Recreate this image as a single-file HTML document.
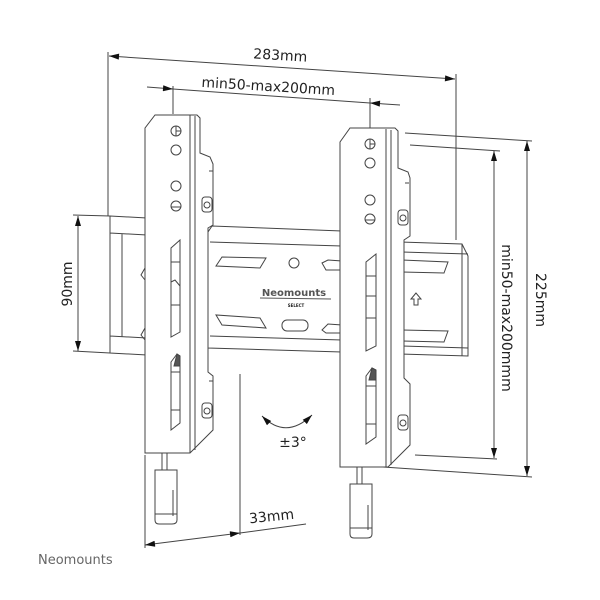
<!DOCTYPE html>
<html><head><meta charset="utf-8"><style>
html,body{margin:0;padding:0;background:#fff;width:600px;height:600px;overflow:hidden}
svg text{font-family:"DejaVu Sans","Liberation Sans",sans-serif;fill:#222}
</style></head><body>
<svg width="600" height="600" viewBox="0 0 600 600" xmlns="http://www.w3.org/2000/svg">
<defs>
<marker id="a" viewBox="0 0 10 6" refX="10" refY="3" markerWidth="12" markerHeight="6" markerUnits="userSpaceOnUse" orient="auto-start-reverse"><path d="M0,0 L10,3 L0,6 Z" fill="#111"/></marker>
</defs>
<g stroke="#444" stroke-width="1" fill="none">
<line x1="108" y1="52" x2="108" y2="216"/>
<line x1="456" y1="74" x2="456" y2="240"/>
<line x1="109" y1="56" x2="455" y2="79" marker-start="url(#a)" marker-end="url(#a)"/>
<line x1="173" y1="86" x2="173" y2="114"/>
<line x1="370" y1="98" x2="370" y2="128"/>
<line x1="147" y1="87" x2="173" y2="89" marker-end="url(#a)"/>
<line x1="173" y1="89" x2="370" y2="103"/>
<line x1="400" y1="105" x2="370" y2="103" marker-end="url(#a)"/>
<line x1="73" y1="215" x2="110" y2="216"/>
<line x1="73" y1="351" x2="110" y2="353"/>
<line x1="78" y1="216" x2="78" y2="351" marker-start="url(#a)" marker-end="url(#a)"/>
<line x1="405" y1="133" x2="532" y2="141"/>
<line x1="383" y1="467" x2="532" y2="477"/>
<line x1="527" y1="141" x2="527" y2="476" marker-start="url(#a)" marker-end="url(#a)"/>
<line x1="410" y1="145" x2="500" y2="151"/>
<line x1="415" y1="455" x2="497" y2="459"/>
<line x1="494" y1="151" x2="494" y2="458" marker-start="url(#a)" marker-end="url(#a)"/>
<line x1="145" y1="455" x2="145" y2="548"/>
<line x1="240" y1="374" x2="240" y2="535"/>
<line x1="145" y1="545" x2="240" y2="533" marker-start="url(#a)" marker-end="url(#a)"/>
<line x1="240" y1="533" x2="306" y2="524"/>
<path d="M262,416 Q286,440 312,415" marker-start="url(#a)" marker-end="url(#a)"/>

<path d="M110,216 L147,218 M110,216 L110,353 L147,355 M110,233 L147,235 M110,336 L147,338 M122,234 L122,337"/>
<path d="M145,268 L141,275 L145,280 M145,328 L141,335 L145,340"/>
<path d="M208,232 L212,226 L342,231 M208,232 L208,348 L342,352 M210,242 L342,246 M210,336 L342,340"/>
<path d="M216,266 L222,257 L266,258 L260,268 Z M322,263 L328,260 L342,261 L342,270 L326,270 Z"/>
<path d="M216,315 L222,325 L266,328 L260,318 Z M322,330 L328,324 L342,325 L342,333 L326,333 Z"/>
<circle cx="294" cy="263" r="5"/>
<rect x="282" y="320" width="26" height="11" rx="5"/>
<line x1="260" y1="298" x2="331" y2="299" stroke="#555"/>
<path d="M400,242 L462,244 L468,256 L468,356 L400,354 Z M462,244 L462,356 M402,252 L468,254 M402,346 L468,348"/>
<path d="M402,260 L448,262 L444,273 L402,272 M402,330 L448,331 L444,342 L402,341"/>
<path d="M416,293 L411,299 L414,299 L414,305 L418,305 L418,299 L421,299 Z"/>

<path d="M145,128 L155,115 L197,115 L200,118 L200,153 L210,157 L213,164 L213,225 L208,228 L208,372 L213,376 L213,430 L190,453 L145,453 Z" fill="#fff"/>
<path d="M190,115 L190,453 M195,116 L195,450"/>
<circle cx="176" cy="131" r="5"/><path d="M176,126 L176,136 M176,131 L181,131" />
<circle cx="176" cy="150" r="5"/><circle cx="176" cy="186" r="5"/><circle cx="176" cy="206" r="5"/><path d="M171,207 L181,207"/>
<path d="M171,248 L180,240 L180,332 L171,337 Z M171,262 L180,262 M171,282 L175,280 L180,286 M171,305 L180,305"/>
<path d="M171,362 L177,354 L180,356 L180,423 L171,430 Z M171,372 L180,372 M171,410 L180,410" />
<path d="M177,354 L180,356 L180,366 L174,366 Z" fill="#555"/>
<rect x="202" y="197" width="10" height="15" rx="3"/><circle cx="207" cy="205" r="3"/>
<rect x="202" y="403" width="10" height="15" rx="3"/><circle cx="207" cy="411" r="3"/>
<path d="M209,171 L213,171 M209,381 L213,381"/>
<path d="M162,453 L162,470 M167,453 L167,470"/>
<path d="M155,470 L177,470 L177,520 Q177,524 172,524 L159,524 Q155,524 155,520 Z" fill="#fff"/>
<path d="M155,514 L177,514 M173,490 L173,516"/>

<path d="M340,142 L350,128 L395,128 L398,131 L398,168 L408,172 L410,178 L410,236 L404,240 L404,378 L410,384 L410,445 L388,467 L340,467 Z" fill="#fff"/>
<path d="M386,129 L386,467 M391,130 L391,465"/>
<circle cx="370" cy="144" r="5"/><path d="M370,139 L370,149 M370,144 L375,144"/>
<circle cx="370" cy="163" r="5"/><circle cx="370" cy="200" r="5"/><circle cx="370" cy="219" r="5"/><path d="M365,220 L375,220"/>
<path d="M366,262 L376,254 L376,346 L366,351 Z M366,276 L376,276 M366,296 L376,296 M366,318 L376,318"/>
<path d="M366,376 L372,368 L376,370 L376,437 L366,444 Z M366,386 L376,386 M366,424 L376,424"/>
<path d="M372,368 L376,370 L376,380 L369,380 Z" fill="#555"/>
<rect x="398" y="210" width="10" height="15" rx="3"/><circle cx="403" cy="218" r="3"/>
<rect x="398" y="415" width="10" height="15" rx="3"/><circle cx="403" cy="423" r="3"/>
<path d="M405,183 L409,183"/>
<path d="M357,467 L357,484 M362,467 L362,484"/>
<path d="M350,484 L372,484 L372,534 Q372,538 367,538 L354,538 Q350,538 350,534 Z" fill="#fff"/>
<path d="M350,528 L372,528 M368,505 L368,530"/>
</g>

<text x="280" y="60" font-size="14" text-anchor="middle" transform="rotate(3.5 280 60)">283mm</text>
<text x="268" y="91" font-size="14" text-anchor="middle" transform="rotate(3.5 268 91)">min50-max200mm</text>
<text x="0" y="0" font-size="14" text-anchor="middle" transform="translate(72 284) rotate(-90)">90mm</text>
<text x="0" y="0" font-size="14" text-anchor="middle" transform="translate(536 300) rotate(90)">225mm</text>
<text x="0" y="0" font-size="14" text-anchor="middle" transform="translate(502 318) rotate(90)">min50-max200mmm</text>
<text x="272" y="521" font-size="14" text-anchor="middle" transform="rotate(-6 272 521)">33mm</text>
<text x="293" y="447" font-size="14" text-anchor="middle">±3°</text>
<text x="294" y="296" font-size="10" text-anchor="middle" font-weight="bold" style="fill:#555">Neomounts</text>
<text x="296" y="307" font-size="4" text-anchor="middle" font-weight="bold">SELECT</text>
<text x="38" y="564" font-size="13" style="fill:#666">Neomounts</text>
</svg>
</body></html>
